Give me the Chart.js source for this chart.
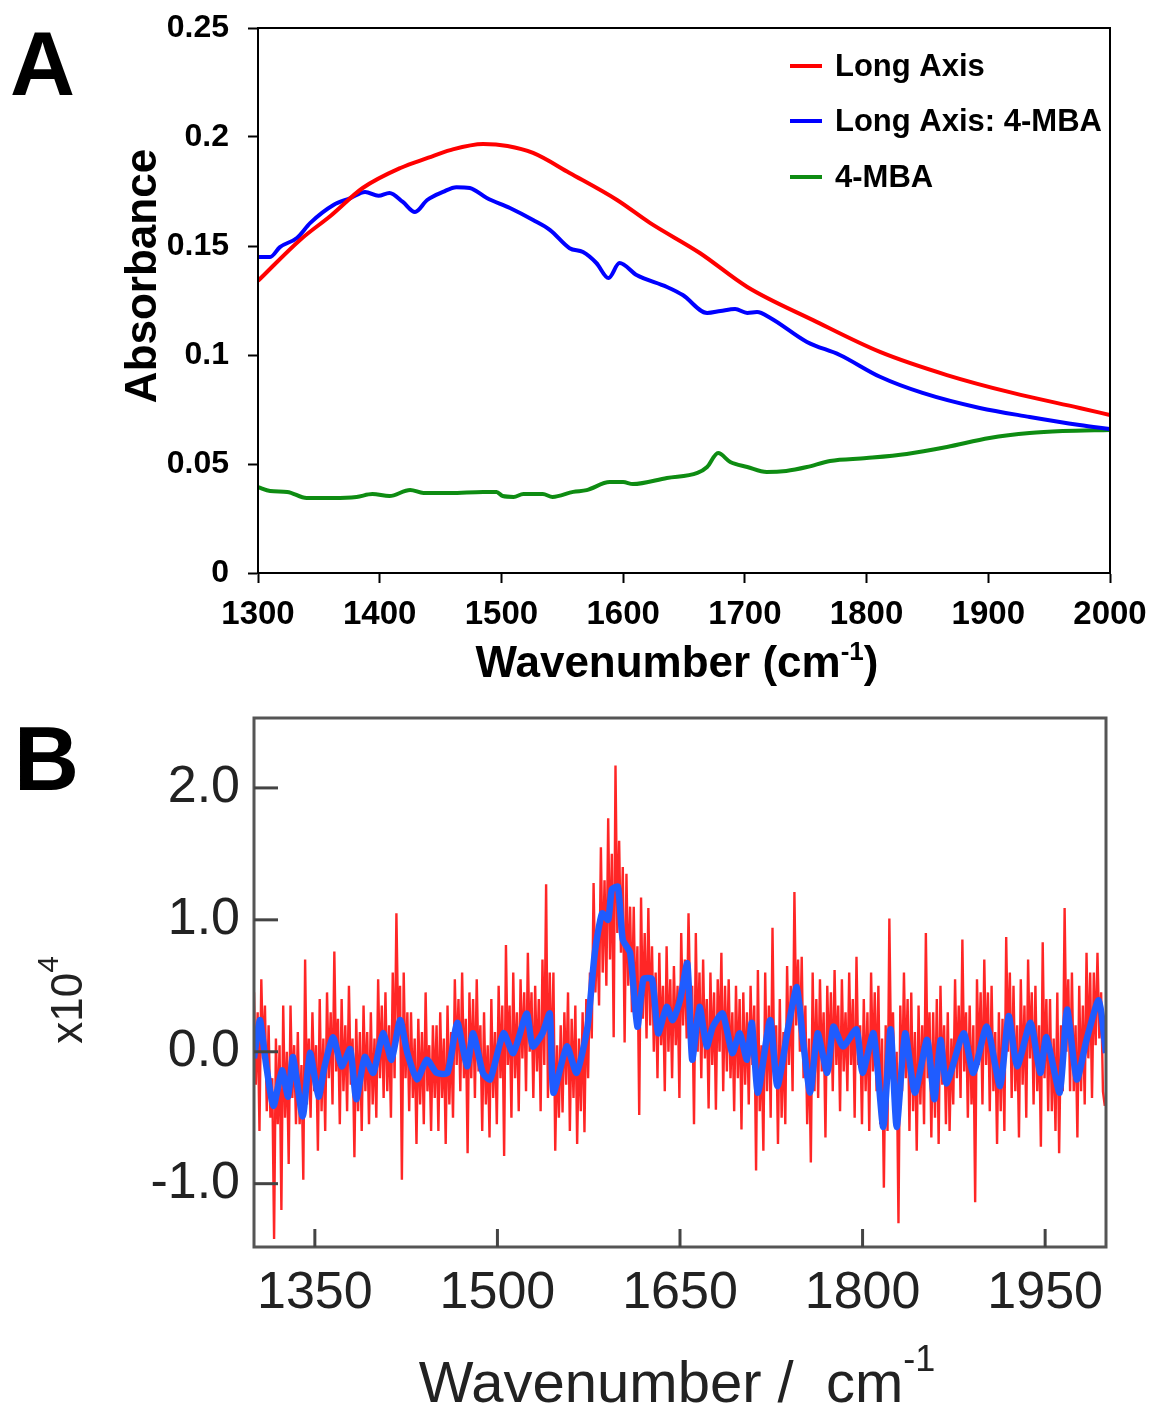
<!DOCTYPE html>
<html><head><meta charset="utf-8">
<script src="https://cdn.jsdelivr.net/npm/chart.js@4.4.1/dist/chart.umd.min.js"></script>
<style>
html,body{margin:0;padding:0;background:#fff;}
#wrapA{position:absolute;left:0;top:0;width:1153px;height:700px;}
#wrapB{position:absolute;left:0;top:700px;width:1153px;height:710px;}
</style></head><body>
<div id="wrapA"><canvas id="chartA"></canvas></div>
<div id="wrapB"><canvas id="chartB"></canvas></div>
<script>
// ---------- Panel A data ----------
const seriesNamesA = ['Long Axis', 'Long Axis: 4-MBA', '4-MBA'];
const longAxisWn = [1300,1335,1360,1386,1417,1440,1458,1485,1505,1526,1556,1595,1622,1663,1702,1756,1811,1866,1920,1975,2000];
const longAxisAbs = [0.134,0.153,0.164,0.1766,0.1858,0.1905,0.194,0.1968,0.1959,0.1927,0.1835,0.1711,0.1606,0.1468,0.1312,0.116,0.1014,0.0908,0.0826,0.0757,0.0725];
const longAxisMbaWn = [1300,1310,1318,1332,1343,1362,1376,1388,1399,1408,1419,1429,1439,1452,1463,1474,1488,1507,1526,1540,1556,1567,1578,1588,1597,1611,1636,1649,1669,1680,1692,1702,1710,1721,1751,1778,1811,1846,1893,1934,1975,2000];
const longAxisMbaAbs = [0.145,0.145,0.1495,0.1537,0.1606,0.1688,0.172,0.1748,0.173,0.1743,0.1702,0.1656,0.1711,0.1748,0.177,0.1766,0.172,0.1674,0.1619,0.1573,0.149,0.1472,0.1422,0.1353,0.1422,0.1367,0.1312,0.1275,0.1193,0.1202,0.1211,0.1193,0.1197,0.117,0.106,0.1,0.09,0.0826,0.0757,0.0716,0.0679,0.066];
const mbaWn = [1300,1310,1324,1340,1362,1381,1394,1408,1425,1436,1458,1485,1496,1501,1510,1518,1534,1542,1559,1570,1589,1600,1608,1636,1661,1669,1678,1688,1702,1718,1734,1751,1770,1800,1833,1866,1901,1934,1961,2000];
const mbaAbs = [0.0394,0.0376,0.0372,0.0344,0.0344,0.0349,0.0362,0.0353,0.0381,0.0367,0.0367,0.0372,0.0372,0.0353,0.0349,0.0362,0.0362,0.0349,0.0372,0.038,0.0417,0.0417,0.0408,0.0436,0.0459,0.0486,0.055,0.0509,0.0486,0.0463,0.0468,0.0486,0.0514,0.0527,0.0546,0.0578,0.0619,0.0642,0.0651,0.0656];
const xTicksA = [1300,1400,1500,1600,1700,1800,1900,2000];
const yTicksA = [0,0.05,0.1,0.15,0.2,0.25];
const yTickLabelsA = ['0','0.05','0.1','0.15','0.2','0.25'];

// ---------- Panel B data ----------
// raw difference spectrum (red), sampled every 1.5 cm-1 from 1300 cm-1
const redStartWn = 1300, redStepWn = 1.5;
const redValsB = [
 0.45,-0.25,0.3,-0.6,0.55,-0.05,0.35,-0.45,0.2,-0.5,-0.2,-1.42,0.1,-0.55,0.05,-1.2,0.35,-0.5,0.0,-0.85,
 0.35,-0.35,0.05,-0.55,0.15,-0.55,-0.1,-0.97,0.7,-0.4,0.1,-0.5,0.3,-0.3,0.05,-0.75,0.4,-0.45,0.1,-0.6,
 0.45,-0.2,0.3,-0.4,0.76,-0.15,0.25,-0.55,0.4,-0.3,0.2,-0.45,0.5,-0.25,0.1,-0.8,0.25,-0.45,0.15,-0.6,
 0.35,-0.3,0.15,-0.55,0.3,-0.4,0.1,-0.5,0.55,-0.2,0.35,-0.35,0.45,-0.3,0.2,-0.5,0.6,-0.2,1.05,0.15,
 0.5,-0.97,0.6,-0.2,0.3,-0.45,0.3,-0.35,0.1,-0.7,0.25,-0.4,0.15,-0.55,0.45,-0.3,0.05,-0.6,0.2,-0.35,
 0.2,-0.6,0.3,-0.35,0.1,-0.7,0.35,-0.4,0.15,-0.5,0.55,-0.1,0.4,-0.3,0.6,-0.2,0.25,-0.77,0.45,-0.2,
 0.4,-0.35,0.55,-0.15,0.2,-0.6,0.3,-0.4,0.05,-0.65,0.4,-0.35,0.15,-0.55,0.5,-0.2,0.35,-0.79,0.81,-0.1,
 0.35,-0.5,0.6,-0.2,0.3,-0.45,0.55,-0.05,0.45,-0.3,0.75,0.0,0.45,-0.35,0.5,-0.15,0.4,-0.45,0.7,-0.1,
 1.27,-0.35,0.6,-0.2,0.6,-0.75,0.05,-0.5,0.2,-0.46,0.3,-0.25,0.45,-0.6,0.25,-0.35,0.35,-0.7,0.1,-0.45,
 0.3,-0.61,0.4,-0.2,0.6,0.1,1.28,0.45,0.9,0.35,1.55,0.6,1.3,0.5,1.77,0.7,1.5,0.11,2.17,0.9,
 1.6,0.75,1.4,0.07,1.35,0.5,1.1,0.3,1.1,0.2,0.8,-0.48,1.17,0.25,0.9,0.1,1.09,0.2,0.8,0.0,
 0.6,-0.2,0.75,0.05,0.5,-0.3,0.8,0.0,0.55,-0.2,0.65,0.05,0.5,-0.35,0.9,0.2,0.7,0.1,1.05,0.3,
 0.5,-0.55,0.9,0.0,0.6,-0.2,0.7,-0.05,0.4,-0.43,0.6,-0.1,0.45,-0.44,0.55,0.0,0.75,-0.3,0.5,-0.15,
 0.55,-0.2,0.3,-0.45,0.5,-0.2,0.4,-0.59,0.45,-0.25,0.3,-0.4,0.5,-0.1,0.35,-0.9,0.62,-0.45,0.05,-0.75,
 0.6,-0.3,0.35,-0.5,0.94,-0.2,0.2,-0.7,0.4,-0.5,0.15,-0.55,0.65,-0.1,0.5,-0.3,1.21,0.2,0.7,0.0,
 0.72,-0.2,0.35,-0.55,0.1,-0.84,0.6,-0.3,0.4,-0.35,0.55,-0.15,0.3,-0.65,0.5,-0.1,0.45,-0.3,0.62,-0.1,
 0.35,-0.45,0.55,-0.15,0.3,-0.3,0.6,-0.1,0.4,-0.5,0.72,-0.1,0.2,-0.55,0.4,-0.3,0.3,-0.6,0.6,-0.15,
 0.45,-0.3,0.5,-0.55,0.1,-1.03,0.2,-0.6,1.01,-0.1,0.3,-0.4,0.0,-1.3,0.35,-0.3,0.6,-0.2,0.4,-0.6,
 0.45,-0.45,0.15,-0.75,0.35,-0.4,0.2,-0.55,0.9,-0.2,0.3,-0.65,0.3,-0.5,0.4,-0.7,0.5,-0.25,0.2,-0.55,
 0.3,-0.6,0.1,-0.4,0.55,-0.2,0.35,-0.35,0.85,-0.15,0.3,-0.5,0.35,-0.4,0.2,-1.14,0.55,-0.1,0.45,-0.4,
 0.7,-0.1,0.45,-0.45,0.5,-0.3,0.15,-0.7,0.3,-0.45,0.25,-0.6,0.87,0.0,0.6,-0.35,0.5,-0.3,0.2,-0.65,
 0.55,-0.25,0.35,-0.5,0.7,-0.05,0.45,-0.4,0.5,-0.3,0.2,-0.72,0.83,-0.2,0.4,-0.45,0.4,-0.45,0.1,-0.6,
 0.45,-0.77,0.2,-0.3,1.09,0.0,0.55,-0.3,0.6,-0.3,0.2,-0.65,0.5,-0.3,0.35,-0.4,0.75,-0.05,0.6,-0.35,
 0.6,0.05,0.75,0.1,0.45,-0.3,-0.41];
// smoothed spectrum (blue)
const blueWnB = [1300,1303,1305,1310,1316,1323,1328,1332,1340,1346,1353,1358,1365,1372,1379,1384,1391,1398,1406,1413,1420,1426,1434,1442,1450,1459,1467,1475,1480,1488,1494,1505,1513,1524,1529,1537,1543,1546,1557,1565,1574,1580,1586,1591,1594,1599,1603,1609,1615,1620,1627,1632,1639,1644,1650,1656,1660,1666,1672,1677,1685,1693,1699,1705,1709,1714,1724,1730,1739,1746,1751,1757,1763,1771,1776,1784,1795,1800,1809,1817,1823,1828,1835,1843,1853,1859,1864,1869,1883,1891,1902,1913,1920,1927,1938,1946,1951,1962,1968,1976,1984,1994,2000];
const blueValsB = [-0.05,0.15,0.24,-0.1,-0.41,-0.14,-0.34,-0.04,-0.49,-0.01,-0.34,-0.11,0.11,-0.11,0.02,-0.36,-0.04,-0.16,0.14,-0.06,0.24,-0.01,-0.21,-0.06,-0.16,-0.16,0.22,-0.11,0.14,-0.16,-0.21,0.14,-0.01,0.29,0.04,0.14,0.29,-0.31,0.04,-0.16,0.19,0.75,1.05,1.0,1.23,1.25,0.85,0.75,0.19,0.55,0.55,0.14,0.34,0.24,0.39,0.67,-0.06,0.34,0.04,0.19,0.29,-0.01,0.14,-0.06,0.22,-0.31,0.24,-0.26,0.19,0.49,0.09,-0.31,0.14,-0.16,0.19,0.04,0.17,-0.16,0.14,-0.57,0.17,-0.57,0.14,-0.31,0.09,-0.36,0.09,-0.24,0.14,-0.16,0.19,-0.26,0.27,-0.11,0.22,-0.16,0.11,-0.31,0.32,-0.21,0.09,0.39,-0.01];
const xTicksB = [1350,1500,1650,1800,1950];
const xTickLabelsB = ['1350','1500','1650','1800','1950'];
const yTicksB = [-1,0,1,2];
const yTickLabelsB = ['-1.0','0.0','1.0','2.0'];

// ---------- helpers ----------
const FF = "'Liberation Sans', Arial, Helvetica, sans-serif";
function pairs(xs, ys){ return xs.map((x,i)=>({x:x, y:ys[i]})); }
const redWnB = redValsB.map((_, i) => redStartWn + i*redStepWn);

function drawRuns(ctx, runs, cx, baseline){
  let total = 0;
  runs.forEach(r => { ctx.font = r.font; r.w = ctx.measureText(r.text).width; total += r.w; });
  let x = cx - total/2;
  ctx.textAlign = 'left'; ctx.textBaseline = 'alphabetic';
  runs.forEach(r => { ctx.font = r.font; ctx.fillText(r.text, x, baseline - (r.dy||0)); x += r.w; });
}

// ---------- Panel A ----------
const panelAPlugin = {
  id: 'panelAExtras',
  afterDraw(chart){
    const ctx = chart.ctx, ca = chart.chartArea;
    ctx.save();
    ctx.strokeStyle = '#000'; ctx.lineWidth = 2;
    ctx.strokeRect(ca.left, ca.top, ca.right - ca.left, ca.bottom - ca.top);
    // legend
    const rows = [66, 121, 177];
    chart.data.datasets.forEach((ds, i) => {
      ctx.strokeStyle = ds.borderColor; ctx.lineWidth = 4;
      ctx.beginPath(); ctx.moveTo(790, rows[i]); ctx.lineTo(822, rows[i]); ctx.stroke();
      ctx.fillStyle = '#000'; ctx.font = 'bold 31px ' + FF;
      ctx.textAlign = 'left'; ctx.textBaseline = 'middle';
      ctx.fillText(ds.label, 835, rows[i] + 1);
    });
    // y title
    ctx.fillStyle = '#000';
    ctx.save();
    ctx.translate(156, 276); ctx.rotate(-Math.PI/2);
    ctx.font = 'bold 44px ' + FF; ctx.textAlign = 'center'; ctx.textBaseline = 'alphabetic';
    ctx.fillText('Absorbance', 0, 0);
    ctx.restore();
    // x title
    drawRuns(ctx, [
      {text:'Wavenumber (cm', font:'bold 44px ' + FF},
      {text:'-1', font:'bold 26px ' + FF, dy:17},
      {text:')', font:'bold 44px ' + FF}
    ], 677, 677);
    // panel letter
    ctx.font = 'bold 90px ' + FF; ctx.textAlign = 'left'; ctx.textBaseline = 'alphabetic';
    ctx.fillText('A', 10, 95);
    ctx.restore();
  }
};

new Chart(document.getElementById('chartA'), {
  type: 'line',
  data: {
    datasets: [
      {label: seriesNamesA[0], data: pairs(longAxisWn, longAxisAbs), borderColor: '#ff0000', borderWidth: 4, pointRadius: 0, cubicInterpolationMode: 'monotone', fill: false},
      {label: seriesNamesA[1], data: pairs(longAxisMbaWn, longAxisMbaAbs), borderColor: '#0000ff', borderWidth: 4, pointRadius: 0, cubicInterpolationMode: 'monotone', fill: false},
      {label: seriesNamesA[2], data: pairs(mbaWn, mbaAbs), borderColor: '#0e8c12', borderWidth: 4, pointRadius: 0, cubicInterpolationMode: 'monotone', fill: false}
    ]
  },
  options: {
    responsive: true, maintainAspectRatio: false, animation: false, devicePixelRatio: 1,
    layout: {padding: {left: 0, top: 28, right: 43, bottom: 0}},
    plugins: {legend: {display: false}, tooltip: {enabled: false}},
    scales: {
      x: {
        type: 'linear', min: 1300, max: 2000,
        afterBuildTicks: s => { s.ticks = xTicksA.map(v => ({value: v})); },
        afterFit: s => { s.height = 127; s.paddingLeft = 0; s.paddingRight = 0; },
        ticks: {autoSkip: false, maxRotation: 0, padding: 12, color: '#000', font: {family: FF, size: 33, weight: 'bold'},
          callback: v => String(v)},
        grid: {drawOnChartArea: false, drawTicks: true, tickLength: 10, tickWidth: 2, tickColor: '#000'},
        border: {display: true, color: '#000', width: 2}
      },
      y: {
        type: 'linear', min: 0, max: 0.25,
        afterBuildTicks: s => { s.ticks = yTicksA.map(v => ({value: v})); },
        afterFit: s => { s.width = 258; s.paddingTop = 0; s.paddingBottom = 0; },
        ticks: {autoSkip: false, padding: 19, color: '#000', font: {family: FF, size: 32, weight: 'bold'},
          callback: v => yTickLabelsA[yTicksA.findIndex(t => Math.abs(t - v) < 1e-9)]},
        grid: {drawOnChartArea: false, drawTicks: true, tickLength: 10, tickWidth: 2, tickColor: '#000'},
        border: {display: true, color: '#000', width: 2}
      }
    }
  },
  plugins: [panelAPlugin]
});

// ---------- Panel B ----------
const panelBPlugin = {
  id: 'panelBExtras',
  afterDraw(chart){
    const ctx = chart.ctx, ca = chart.chartArea;
    const xs = chart.scales.x, ys = chart.scales.y;
    ctx.save();
    ctx.strokeStyle = '#555'; ctx.lineWidth = 3;
    ctx.strokeRect(ca.left, ca.top, ca.right - ca.left, ca.bottom - ca.top);
    ctx.strokeStyle = '#444'; ctx.lineWidth = 3;
    ys.ticks.forEach(t => { const py = ys.getPixelForValue(t.value);
      ctx.beginPath(); ctx.moveTo(ca.left, py); ctx.lineTo(ca.left + 24, py); ctx.stroke(); });
    xs.ticks.forEach(t => { const px = xs.getPixelForValue(t.value);
      ctx.beginPath(); ctx.moveTo(px, ca.bottom); ctx.lineTo(px, ca.bottom - 18); ctx.stroke(); });
    ctx.fillStyle = '#222';
    // x title
    drawRuns(ctx, [
      {text:'Wavenumber /  cm', font:'58px ' + FF},
      {text:'-1', font:'36px ' + FF, dy:31}
    ], 677, 702);
    // y title
    ctx.save();
    ctx.translate(82, 300); ctx.rotate(-Math.PI/2);
    ctx.textBaseline = 'alphabetic';
    ctx.font = '44px ' + FF; const w1 = ctx.measureText('x10').width;
    ctx.font = '30px ' + FF; const w2 = ctx.measureText('4').width;
    const sx = -(w1 + w2)/2;
    ctx.textAlign = 'left';
    ctx.font = '44px ' + FF; ctx.fillText('x10', sx, 0);
    ctx.font = '30px ' + FF; ctx.fillText('4', sx + w1, -24);
    ctx.restore();
    // panel letter
    ctx.fillStyle = '#000';
    ctx.font = 'bold 90px ' + FF; ctx.textAlign = 'left'; ctx.textBaseline = 'alphabetic';
    ctx.fillText('B', 14, 90);
    ctx.restore();
  }
};

new Chart(document.getElementById('chartB'), {
  type: 'line',
  data: {
    datasets: [
      {label: 'smoothed', data: pairs(blueWnB, blueValsB), borderColor: '#1f5cff', borderWidth: 6.5, pointRadius: 0, tension: 0.2, fill: false},
      {label: 'raw', data: pairs(redWnB, redValsB), borderColor: 'rgba(255,0,0,0.85)', borderWidth: 2.4, pointRadius: 0, tension: 0, fill: false}
    ]
  },
  options: {
    responsive: true, maintainAspectRatio: false, animation: false, devicePixelRatio: 1,
    layout: {padding: {left: 0, top: 18, right: 47, bottom: 0}},
    plugins: {legend: {display: false}, tooltip: {enabled: false}},
    scales: {
      x: {
        type: 'linear', min: 1300, max: 2000,
        afterBuildTicks: s => { s.ticks = xTicksB.map(v => ({value: v})); },
        afterFit: s => { s.height = 163; s.paddingLeft = 0; s.paddingRight = 0; },
        ticks: {autoSkip: false, maxRotation: 0, padding: 15, color: '#222', font: {family: FF, size: 52},
          callback: v => xTickLabelsB[xTicksB.indexOf(v)]},
        grid: {display: false, drawTicks: false},
        border: {display: false}
      },
      y: {
        type: 'linear', min: -1.48, max: 2.53,
        afterBuildTicks: s => { s.ticks = yTicksB.map(v => ({value: v})); },
        afterFit: s => { s.width = 254; s.paddingTop = 0; s.paddingBottom = 0; },
        ticks: {autoSkip: false, padding: 14, color: '#222', font: {family: FF, size: 52},
          callback: v => yTickLabelsB[yTicksB.indexOf(v)]},
        grid: {display: false, drawTicks: false},
        border: {display: false}
      }
    }
  },
  plugins: [panelBPlugin]
});
</script></body></html>
